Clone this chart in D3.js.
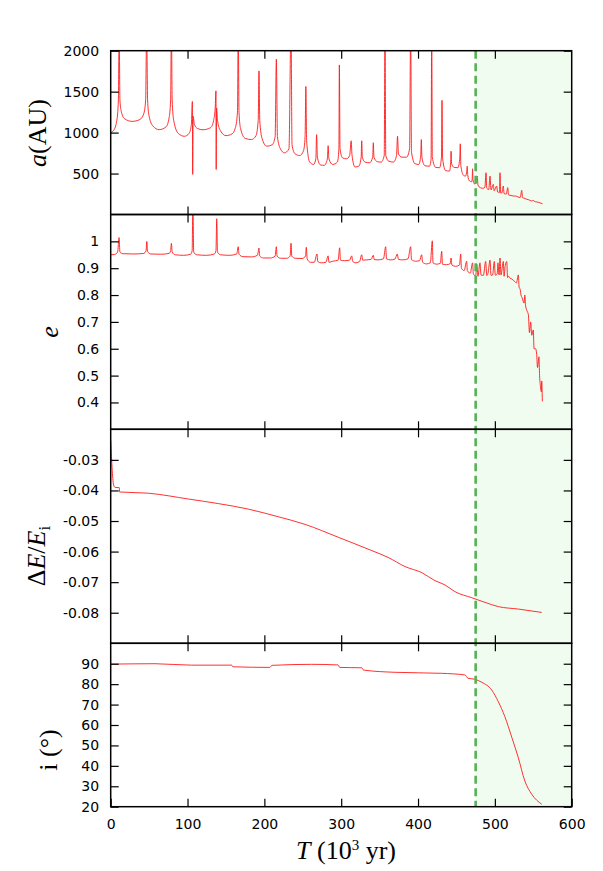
<!DOCTYPE html>
<html>
<head>
<meta charset="utf-8">
<script src="https://cdn.jsdelivr.net/npm/d3@7"></script>
<style>
html,body{margin:0;padding:0;background:#fff;}
svg{display:block;}
</style>
</head>
<body>
<svg id="chart" width="603" height="871"></svg>
<script>
// ---------------- DATA ----------------
// Panel 1: semi-major axis a (AU) vs T (10^3 yr)
const aT = [0,4,8,10,11,12,14,18,28,38,43,45.5,46.8,48,50,55,63,72,76,78,79,80,82,88,96,102,105,106.3,106.7,107.3,109,113,120,130,134,136,137,137.3,137.8,139,143,150,158,162,165,166,167,169,175,183,189,192,193,194,197,203,210,214,215.6,217,221,226,232,234.7,236,240,246,251,253,254,255,259,264,267,268,269,273,278,282,283,284,289,295,297,297.6,298.5,302,307,311,313,314,318,323,326,326.7,327.5,331,337,341,341.8,342.6,347,352,356,357,358,362,368,372,373.3,374.5,379,385,389,390.4,391.5,396,401,403.5,404.3,405,409,415,417,417.8,418.6,423,428,430.5,431.2,432,436,441,442.5,443,443.7,447,452,454.4,455,455.7,459,462,463.5,464,464.7,467,470,470.7,471,471.5,474,477,478,481,484,487,488.5,489.5,492,493.7,495,498,499,502.4,503.5,506,506.7,507.5,509,511,512,515,516.7,518,521,524,527,530,533,535,536,538,541.5,544,548,550,552,554.5,557,560,562];
const aV = [1000,1030,1150,1400,2300,1400,1250,1170,1137,1160,1230,1400,2300,1400,1200,1080,1036,1070,1180,1400,2300,1400,1150,990,955,990,1100,1380,490,1200,1100,1050,1035,1060,1150,1300,1510,550,1300,1150,1020,963,985,1050,1250,2300,1250,1050,930,915,960,1150,1753,1150,930,834,850,950,1895,950,800,753,800,2300,850,740,720,780,950,1563,900,640,611,680,975,700,605,600,680,840,680,611,640,800,1826,800,690,680,720,900,730,580,590,700,900,700,640,632,700,877,700,645,640,720,2300,720,650,640,720,955,740,700,700,800,2300,760,620,611,720,915,700,595,590,680,2300,700,575,571,700,1393,680,535,530,640,773,620,575,571,700,863,600,480,469,540,590,480,410,400,480,558,430,370,470,360,328,320,330,510,320,305,469,300,368,290,348,275,270,510,265,262,348,255,250,328,238,232,226,225,215,208,295,205,200,186,180,165,172,158,153,148,138,130];

// Panel 2: eccentricity e
const eT = [0,5,9,10.9,12,16,30,43,46,47,48,52,65,76,78,79,80,84,95,104,106,107,108,112,125,135,137,138,139,143,155,164,166,167,172,183,191,193,194,199,208,214,215.6,216.5,221,229,233.5,234.7,235.7,240,249,253.5,254.6,255.7,260,265,268.5,269.5,274,280,283,284,289,296,298,299,304,311,313.7,315,319,324,326.7,328,333,339,341.8,343,348,355,357.9,359,364,370,373,374.5,380,387,390.4,391.5,397,402,404.7,406,411,416,418.6,419.5,424,429,430.8,431.8,437,442,443,444,449,454,455.5,456.5,460,463.3,464.2,468,471,472,475,476.5,478,480.6,482,485,488,489.5,491,493.7,495,497,499.3,500.5,503,504,505.5,506.7,508,511,512,513.5,515.5,516.5,518,519.7,522,524,526,528,530.6,531.5,533,534,535.5,538,539,540,542,543.6,545,546.6,548,550,551,553,554.4,555.5,557.4,558.2,559,560.5,561,561.8];
const eV = [0.95,0.951,0.96,1.014,0.96,0.954,0.953,0.955,0.965,1.0,0.962,0.953,0.952,0.955,0.965,0.993,0.96,0.95,0.948,0.952,0.965,1.15,0.96,0.95,0.948,0.953,0.965,1.084,0.96,0.95,0.948,0.953,0.98,0.952,0.943,0.942,0.948,0.975,0.945,0.938,0.938,0.945,0.98,0.945,0.937,0.937,0.945,0.993,0.945,0.937,0.936,0.945,0.978,0.935,0.922,0.922,0.953,0.925,0.92,0.922,0.946,0.922,0.926,0.93,0.976,0.93,0.928,0.93,0.946,0.925,0.92,0.925,0.95,0.93,0.931,0.933,0.948,0.932,0.931,0.935,0.98,0.935,0.931,0.934,0.953,0.933,0.931,0.935,0.98,0.932,0.926,0.928,0.95,0.922,0.916,0.92,1.002,0.92,0.915,0.918,0.963,0.915,0.913,0.917,0.938,0.912,0.907,0.912,0.953,0.9,0.891,0.926,0.89,0.882,0.92,0.88,0.87,0.915,0.87,0.92,0.875,0.873,0.925,0.873,0.88,0.93,0.873,0.875,0.925,0.874,0.878,0.92,0.875,0.938,0.875,0.925,0.87,0.91,0.925,0.865,0.87,0.863,0.86,0.855,0.85,0.845,0.875,0.83,0.82,0.8,0.79,0.77,0.8,0.76,0.74,0.727,0.66,0.7,0.65,0.67,0.6,0.6,0.58,0.53,0.57,0.5,0.47,0.44,0.48,0.404];

// Panel 3: relative energy change dE/Ei
const dET = [0,4,5.7,11.2,11.6,49,101,140,179,218,253,296,340,361,383,405,422,435,448,470,487,504.5,530.5,561];
const dEV = [-0.0237,-0.0385,-0.039,-0.0391,-0.0405,-0.0409,-0.0428,-0.0443,-0.0461,-0.0486,-0.0511,-0.0553,-0.0597,-0.0619,-0.0649,-0.0669,-0.0695,-0.0709,-0.0731,-0.0751,-0.0766,-0.078,-0.0788,-0.0799];

// Panel 4: inclination i (deg)
const incT = [0,57.7,105,157.5,159,207,210,261.6,296,298,326.7,329,370,431,461,465,474,483,496,504.5,513,522,530.5,539,548,561];
const incV = [89.8,90,89.3,89.3,88.5,88.2,89.2,89.7,89.4,88.2,88,86.9,85.8,85.3,84.5,82.9,82.4,80.9,77.1,71.4,64.1,54,44,32.6,26.1,21.2];

// Ticks
const xTicks = [0,100,200,300,400,500,600];
const aTicks = [500,1000,1500,2000];
const eTicks = [0.4,0.5,0.6,0.7,0.8,0.9,1.0];
const dETicks = [-0.08,-0.07,-0.06,-0.05,-0.04,-0.03];
const incTicks = [20,30,40,50,60,70,80,90];
const markerT = 475;

// ---------------- DRAW ----------------
const svg = d3.select("#chart");
const L = 110.7, R = 571.7;
const x = d3.scaleLinear().domain([0,600]).range([L,R]);

const panels = [
  {id:"a", T:aT, V:aV, dom:[0,2000], top:50.7, bot:214.5, ticks:aTicks, fmt:d=>String(d)},
  {id:"e", T:eT, V:eV, dom:[0.3,1.1], top:214.5, bot:429.3, ticks:eTicks, fmt:d=>d===1?"1":d.toFixed(1)},
  {id:"dE", T:dET, V:dEV, dom:[-0.09,-0.02], top:429.3, bot:643.3, ticks:dETicks, fmt:d=>d.toFixed(2)},
  {id:"inc", T:incT, V:incV, dom:[20,100], top:643.3, bot:806.7, ticks:incTicks, fmt:d=>String(d)}
];

const TOP = panels[0].top, BOT = panels[3].bot;

// shaded region
svg.append("rect")
  .attr("x", x(markerT)).attr("y", TOP)
  .attr("width", x(600)-x(markerT)).attr("height", BOT-TOP)
  .attr("fill", "#f1fcf0");

const defs = svg.append("defs");

panels.forEach((p,i) => {
  const y = d3.scaleLinear().domain(p.dom).range([p.bot, p.top]);
  p.y = y;
  defs.append("clipPath").attr("id","clip"+i)
    .append("rect").attr("x",L).attr("y",p.top).attr("width",R-L).attr("height",p.bot-p.top);

  const pts = p.T.map((t,k)=>[t,p.V[k]]);
  const line = d3.line().x(d=>x(d[0])).y(d=>y(d[1])).curve(d3.curveMonotoneX);
  svg.append("path")
    .attr("d", line(pts))
    .attr("clip-path","url(#clip"+i+")")
    .attr("fill","none").attr("stroke","#ff1a1a").attr("stroke-width",0.9)
    .attr("stroke-linejoin","round");
});

// dashed marker line
svg.append("line")
  .attr("x1", x(markerT)).attr("x2", x(markerT))
  .attr("y1", TOP).attr("y2", BOT)
  .attr("stroke","#55b255").attr("stroke-width",2.6)
  .attr("stroke-dasharray","8,4.5");

// axes
panels.forEach((p,i) => {
  const y = p.y;
  const gl = svg.append("g").attr("transform",`translate(${L},0)`)
    .call(d3.axisLeft(y).tickValues(p.ticks).tickFormat(p.fmt).tickSizeInner(-8).tickSizeOuter(0).tickPadding(11.5));
  const gr = svg.append("g").attr("transform",`translate(${R},0)`)
    .call(d3.axisRight(y).tickValues(p.ticks).tickFormat("").tickSizeInner(-8).tickSizeOuter(0));
  const gt = svg.append("g").attr("transform",`translate(0,${p.top})`)
    .call(d3.axisTop(x).tickValues(xTicks.slice(1,-1)).tickFormat("").tickSizeInner(-8).tickSizeOuter(0));
  const gb = svg.append("g").attr("transform",`translate(0,${p.bot})`)
    .call(d3.axisBottom(x).tickValues(i===3?xTicks:xTicks.slice(1,-1)).tickFormat(i===3?(d=>String(d)):"").tickSizeInner(-8).tickSizeOuter(0).tickPadding(12));
  [gl,gr,gt,gb].forEach(g=>{
    g.select(".domain").remove();
    g.selectAll(".tick line").attr("stroke","#000").attr("stroke-width",1.2);
    g.selectAll(".tick text").attr("font-family","'DejaVu Sans', sans-serif").attr("font-size",14).attr("fill","#000");
  });
  // frame
  svg.append("rect").attr("x",L).attr("y",p.top).attr("width",R-L).attr("height",p.bot-p.top)
    .attr("fill","none").attr("stroke","#000").attr("stroke-width",1.5);
});

// axis titles
const serif = "'Liberation Serif','DejaVu Serif',serif";
function vlabel(xpos, ypos, build){
  const t = svg.append("text")
    .attr("transform",`translate(${xpos},${ypos}) rotate(-90)`)
    .attr("text-anchor","middle")
    .attr("font-family",serif).attr("font-size",26).attr("fill","#000");
  build(t);
}
vlabel(46, 133, t=>{
  t.append("tspan").attr("font-style","italic").text("a");
  t.append("tspan").text("(AU)");
});
vlabel(58, 332, t=>{
  t.append("tspan").attr("font-style","italic").text("e");
});
vlabel(45, 556, t=>{
  t.append("tspan").text("Δ");
  t.append("tspan").attr("font-style","italic").text("E");
  t.append("tspan").text("/");
  t.append("tspan").attr("font-style","italic").text("E");
  t.append("tspan").attr("font-size",17).attr("dy",5).text("i");
});
vlabel(57, 750, t=>{
  t.append("tspan").text("i (°)");
});

const xt = svg.append("text").attr("x",296).attr("y",859)
  .attr("font-family",serif).attr("font-size",26).attr("fill","#000");
xt.append("tspan").attr("font-style","italic").text("T");
xt.append("tspan").text(" (10");
xt.append("tspan").attr("font-size",15).attr("dy",-9).text("3");
xt.append("tspan").attr("dy",9).text(" yr)");
</script>
</body>
</html>
